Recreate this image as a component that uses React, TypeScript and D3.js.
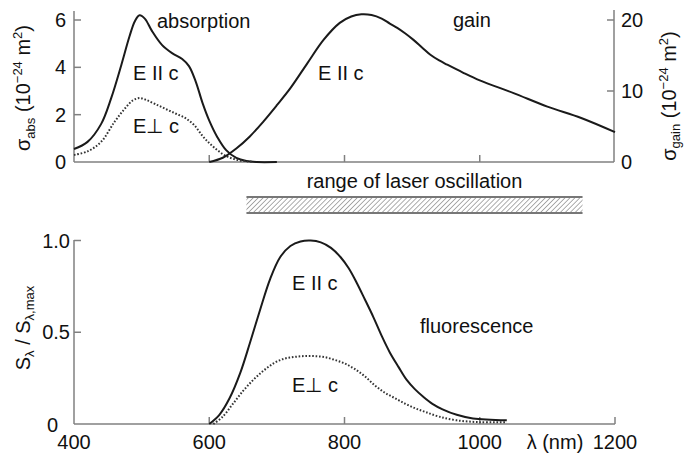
import React from "react";
import * as d3 from "d3";

// ---- data ----
const absWl = [400, 420, 440, 455, 470, 482, 490, 497, 505, 515, 530, 545, 560, 570, 580, 590, 600, 612, 625, 640, 655, 670, 700];
const absPar = [0.55, 0.85, 1.6, 2.7, 4.1, 5.3, 5.95, 6.2, 6.05, 5.55, 4.95, 4.6, 4.35, 4.05, 3.4, 2.5, 1.75, 1.05, 0.5, 0.17, 0.04, 0.0, 0.0];
const absPerpWl = [400, 420, 440, 460, 475, 487, 497, 507, 520, 535, 550, 565, 578, 590, 600, 612, 625, 640, 655, 665];
const absPerp = [0.3, 0.45, 0.85, 1.7, 2.25, 2.6, 2.7, 2.62, 2.45, 2.25, 2.05, 1.85, 1.55, 1.1, 0.8, 0.5, 0.25, 0.1, 0.03, 0.01];

const gainWl = [600, 620, 640, 660, 680, 700, 720, 745, 769, 793, 810, 825, 840, 855, 867, 878, 890, 902, 915, 927, 940, 952, 975, 1000, 1050, 1100, 1150, 1200];
const gainPar = [0, 0.6, 1.9, 3.6, 5.7, 8.0, 10.4, 13.9, 17.2, 19.6, 20.5, 20.8, 20.7, 20.2, 19.5, 18.9, 18.1, 17.2, 16.1, 15.1, 14.3, 13.7, 12.6, 11.5, 9.7, 7.8, 6.2, 4.2];

const flWl = [600, 615, 630, 646, 660, 675, 690, 705, 720, 735, 750, 765, 780, 794, 806, 818, 830, 843, 855, 867, 880, 892, 904, 916, 930, 945, 966, 990, 1040];
const flPar = [0, 0.05, 0.14, 0.28, 0.44, 0.62, 0.79, 0.91, 0.97, 0.995, 1.0, 0.99, 0.96, 0.91, 0.85, 0.77, 0.68, 0.58, 0.48, 0.39, 0.31, 0.24, 0.19, 0.15, 0.11, 0.08, 0.05, 0.03, 0.02];
const flPerpWl = [606, 620, 635, 650, 665, 680, 695, 710, 725, 740, 755, 770, 785, 800, 815, 830, 845, 860, 875, 890, 905, 920, 940, 966, 1000, 1040];
const flPerp = [0, 0.04, 0.11, 0.18, 0.24, 0.29, 0.33, 0.355, 0.365, 0.37, 0.37, 0.365, 0.35, 0.33, 0.3, 0.26, 0.21, 0.17, 0.14, 0.11, 0.085, 0.065, 0.04, 0.02, 0.01, 0.01];

const laserRange = [655, 1152];

const xTicksTop = [600, 800, 1000];
const xTicksBottom = [400, 600, 800, 1000, 1200];
const xTickLabels = ["400", "600", "800", "1000", "1200"];
const absTicks = [0, 2, 4, 6];
const gainTicks = [0, 10, 20];
const flTicks = [0, 0.5, 1.0];
const flTickLabels = ["0", "0.5", "1.0"];

const FONT = "'Liberation Sans', Arial, Helvetica, sans-serif";
const AX = "#808080";
const INK = "#1a1a1a";

export default function App() {
  const x = d3.scaleLinear().domain([400, 1200]).range([74, 615]);
  const yAbs = d3.scaleLinear().domain([0, 6]).range([162, 20]);
  const yGain = d3.scaleLinear().domain([0, 20]).range([162, 20]);
  const yFl = d3.scaleLinear().domain([0, 1]).range([424, 240.5]);

  const mk = (wl: number[], v: number[], y: d3.ScaleLinear<number, number>) =>
    d3
      .line<number>()
      .x((_, i) => x(wl[i]))
      .y((d) => Math.min(y(d), y(0)))
      .curve(d3.curveCatmullRom.alpha(0.5))(v) as string;

  const solid = { fill: "none", stroke: INK, strokeWidth: 2 };
  const dotted = { fill: "none", stroke: "#333", strokeWidth: 2, strokeDasharray: "1.6 1.8" };
  const txt = { fontFamily: FONT, fontSize: 20, fill: "#111" };

  return (
    <svg width={686} height={454} style={{ position: "absolute", left: 0, top: 0, background: "#fff" }}>
      <defs>
        <pattern id="hatch" patternUnits="userSpaceOnUse" width={3.5} height={3.5} patternTransform="rotate(45)">
          <line x1={0} y1={0} x2={0} y2={3.5} stroke="#777" strokeWidth={1.2} />
        </pattern>
      </defs>

      {/* top panel axes */}
      <g stroke={AX} strokeWidth={1.5} fill="none">
        <line x1={74} y1={11} x2={74} y2={162} />
        <line x1={614} y1={10} x2={614} y2={162} />
        <line x1={74} y1={162} x2={614} y2={162} />
        {absTicks.filter((t) => t > 0).map((t) => (
          <line key={"a" + t} x1={74} x2={81} y1={yAbs(t)} y2={yAbs(t)} />
        ))}
        {gainTicks.filter((t) => t > 0).map((t) => (
          <line key={"g" + t} x1={607} x2={614} y1={yGain(t)} y2={yGain(t)} />
        ))}
        {xTicksTop.map((t) => (
          <line key={"xt" + t} x1={x(t)} x2={x(t)} y1={162} y2={155} />
        ))}
      </g>
      {absTicks.map((t) => (
        <text key={"al" + t} x={66} y={yAbs(t) + 7} textAnchor="end" {...txt}>{t}</text>
      ))}
      {gainTicks.map((t) => (
        <text key={"gl" + t} x={621} y={yGain(t) + 7} textAnchor="start" {...txt}>{t}</text>
      ))}

      {/* top curves */}
      <path d={mk(absWl, absPar, yAbs)} {...solid} />
      <path d={mk(absPerpWl, absPerp, yAbs)} {...dotted} />
      <path d={mk(gainWl, gainPar, yGain)} {...solid} />

      <text x={157} y={28} {...txt}>absorption</text>
      <text x={453} y={27} {...txt}>gain</text>
      <text x={133} y={80} {...txt}>E II c</text>
      <text x={133} y={133} {...txt}>E⊥ c</text>
      <text x={318} y={80} {...txt}>E II c</text>

      {/* axis titles top */}
      <text transform="translate(30,88) rotate(-90)" textAnchor="middle" {...txt}>
        σ<tspan fontSize={13} dy={5}>abs</tspan>
        <tspan dy={-5}> (10</tspan>
        <tspan fontSize={13} dy={-8}>−24</tspan>
        <tspan dy={8}> m</tspan>
        <tspan fontSize={13} dy={-8}>2</tspan>
        <tspan dy={8}>)</tspan>
      </text>
      <text transform="translate(676,96) rotate(-90)" textAnchor="middle" {...txt}>
        σ<tspan fontSize={13} dy={4}>gain</tspan>
        <tspan dy={-4}> (10</tspan>
        <tspan fontSize={13} dy={-8}>−24</tspan>
        <tspan dy={8}> m</tspan>
        <tspan fontSize={13} dy={-8}>2</tspan>
        <tspan dy={8}>)</tspan>
      </text>

      {/* laser range band */}
      <text x={(x(laserRange[0]) + x(laserRange[1])) / 2} y={188} textAnchor="middle" {...txt}>
        range of laser oscillation
      </text>
      <rect x={x(laserRange[0])} y={197} width={x(laserRange[1]) - x(laserRange[0])} height={16} fill="url(#hatch)" />
      <g stroke="#777" strokeWidth={2}>
        <line x1={x(laserRange[0])} x2={x(laserRange[1])} y1={197} y2={197} />
        <line x1={x(laserRange[0])} x2={x(laserRange[1])} y1={213} y2={213} />
      </g>

      {/* bottom panel axes */}
      <g stroke={AX} strokeWidth={1.5} fill="none">
        <line x1={74} y1={240} x2={74} y2={424} />
        <line x1={74} y1={424} x2={615} y2={424} />
        {flTicks.filter((t) => t > 0).map((t) => (
          <line key={"f" + t} x1={74} x2={81} y1={yFl(t)} y2={yFl(t)} />
        ))}
        {xTicksBottom.filter((t) => t > 400).map((t) => (
          <line key={"xb" + t} x1={x(t)} x2={x(t)} y1={424} y2={417} />
        ))}
      </g>
      {flTicks.map((t, i) => (
        <text key={"fl" + t} x={t === 0 ? 58 : 70} y={yFl(t) + (t === 0 ? 8 : 7)} textAnchor="end" {...txt}>
          {flTickLabels[i]}
        </text>
      ))}
      {xTicksBottom.map((t, i) => (
        <text key={"xl" + t} x={x(t)} y={449} textAnchor="middle" {...txt}>{xTickLabels[i]}</text>
      ))}
      <text x={555} y={449} textAnchor="middle" {...txt}>λ (nm)</text>

      <text transform="translate(30,328) rotate(-90)" textAnchor="middle" {...txt}>
        S<tspan fontSize={13} dy={4}>λ</tspan>
        <tspan dy={-4}> / S</tspan>
        <tspan fontSize={13} dy={4}>λ,max</tspan>
      </text>

      {/* bottom curves */}
      <path d={mk(flWl, flPar, yFl)} {...solid} />
      <path d={mk(flPerpWl, flPerp, yFl)} {...dotted} />

      <text x={292} y={290} {...txt}>E II c</text>
      <text x={292} y={392} {...txt}>E⊥ c</text>
      <text x={420} y={333} {...txt}>fluorescence</text>
    </svg>
  );
}
